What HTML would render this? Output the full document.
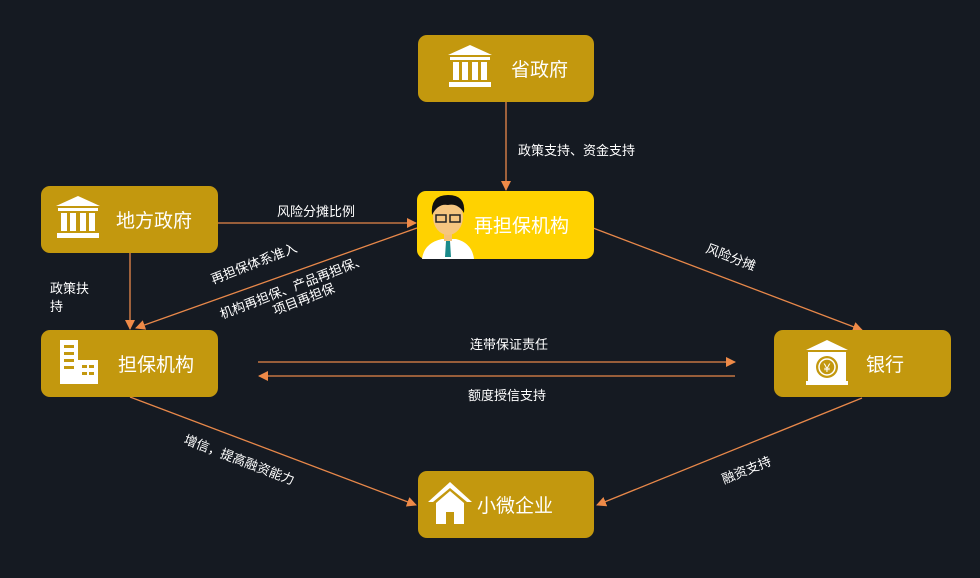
<!DOCTYPE html>
<html><head><meta charset="utf-8"><style>
body{margin:0;background:#151a22;}
svg{display:block}
text{font-family:"Liberation Sans","Noto Sans CJK SC",sans-serif;fill:#fff}
</style></head><body>
<svg width="980" height="578" viewBox="0 0 980 578">
<defs><marker id="a" markerWidth="10" markerHeight="10" refX="9" refY="5" orient="auto" markerUnits="userSpaceOnUse"><path d="M0,0 L10,5 L0,10 z" fill="#ee8a48"/></marker></defs>
<rect width="980" height="578" fill="#151a22"/>
<g stroke="#e8884a" stroke-width="1.3" fill="none" marker-end="url(#a)">
<line x1="506" y1="102" x2="506" y2="190"/>
<line x1="218" y1="223" x2="416" y2="223"/>
<line x1="130" y1="253" x2="130" y2="329"/>
<line x1="417" y1="228" x2="136" y2="328"/>
<line x1="593" y1="228" x2="862" y2="330"/>
<line x1="258" y1="362" x2="735" y2="362"/>
<line x1="735" y1="376" x2="259" y2="376"/>
<line x1="130" y1="397" x2="416" y2="505"/>
<line x1="862" y1="398" x2="597" y2="505"/>
</g>
<g fill="#c3980e">
<rect x="418" y="35" width="176" height="67" rx="9"/>
<rect x="41" y="186" width="177" height="67" rx="9"/>
<rect x="41" y="330" width="177" height="67" rx="9"/>
<rect x="774" y="330" width="177" height="67" rx="9"/>
<rect x="418" y="471" width="176" height="67" rx="9"/>
</g>
<rect x="417" y="191" width="177" height="68" rx="9" fill="#ffd200"/>
<!-- bank icons -->
<g fill="#fff">
<g transform="translate(448,45)"><path d="M22,0 L44,10 L0,10 z"/><rect x="2" y="12" width="40" height="3"/><rect x="5" y="17" width="6" height="18"/><rect x="14" y="17" width="6" height="18"/><rect x="24" y="17" width="6" height="18"/><rect x="33" y="17" width="6" height="18"/><rect x="1" y="37" width="42" height="5"/></g>
<g transform="translate(56,196)"><path d="M22,0 L44,10 L0,10 z"/><rect x="2" y="12" width="40" height="3"/><rect x="5" y="17" width="6" height="18"/><rect x="14" y="17" width="6" height="18"/><rect x="24" y="17" width="6" height="18"/><rect x="33" y="17" width="6" height="18"/><rect x="1" y="37" width="42" height="5"/></g>
<g transform="translate(806,340)"><path d="M21,0 L42,10 L0,10 z"/><rect x="2" y="12" width="38" height="31"/><rect x="0" y="41" width="42" height="4"/><circle cx="21" cy="27" r="11" fill="#c3980e"/><circle cx="21" cy="27" r="8" fill="none" stroke="#fff" stroke-width="1.5"/><text x="21" y="32" font-size="12" text-anchor="middle" style="fill:#fff">¥</text></g>
<g transform="translate(60,340)"><rect x="0" y="0" width="18" height="44"/><rect x="18" y="20" width="20" height="24"/><g fill="#c3980e"><rect x="4" y="5" width="10" height="3"/><rect x="4" y="12" width="10" height="3"/><rect x="4" y="19" width="10" height="3"/><rect x="4" y="26" width="10" height="3"/><rect x="22" y="25" width="5" height="3"/><rect x="29" y="25" width="5" height="3"/><rect x="22" y="32" width="5" height="3"/><rect x="29" y="32" width="5" height="3"/></g></g>
<g transform="translate(428,482)"><path d="M22,0 L44,20 L39,20 L22,6 L5,20 L0,20 z"/><path d="M8,21 L22,9 L36,21 L36,42 L26,42 L26,30 L18,30 L18,42 L8,42 z"/></g>
</g>
<!-- person -->
<g transform="translate(420,193)">
<path d="M2,66 Q4,50 22,46 L36,46 Q52,50 54,66 z" fill="#fff"/>
<rect x="24" y="38" width="8" height="10" fill="#f4c27a"/>
<ellipse cx="28" cy="24" rx="15" ry="18" fill="#f6c680"/>
<path d="M12,22 Q10,2 28,2 Q46,2 44,20 Q38,10 28,12 Q18,10 12,22z" fill="#111"/>
<rect x="16" y="22" width="10" height="7" fill="none" stroke="#222" stroke-width="1.5"/><rect x="30" y="22" width="10" height="7" fill="none" stroke="#222" stroke-width="1.5"/>
<path d="M26,48 L30,48 L31,64 L25,64z" fill="#1a8a8a"/>
</g>
<g font-size="19">
<text x="511" y="76">省政府</text>
<text x="116" y="227">地方政府</text>
<text x="474" y="232">再担保机构</text>
<text x="118" y="371">担保机构</text>
<text x="866" y="371">银行</text>
<text x="477" y="512">小微企业</text>
</g>
<g font-size="13">
<text x="518" y="155">政策支持、资金支持</text>
<text x="277" y="216">风险分摊比例</text>
<text x="50" y="293">政策扶</text><text x="50" y="311">持</text>
<text x="470" y="349">连带保证责任</text>
<text x="468" y="400">额度授信支持</text>
<text transform="translate(705,252) rotate(21)">风险分摊</text>
<text transform="translate(213,284) rotate(-21)">再担保体系准入</text>
<text transform="translate(222,319) rotate(-21)">机构再担保、产品再担保、</text>
<text transform="translate(275,315) rotate(-21)">项目再担保</text>
<text transform="translate(183,443) rotate(21)">增信，提高融资能力</text>
<text transform="translate(724,484) rotate(-22)">融资支持</text>
</g>
</svg>
</body></html>
